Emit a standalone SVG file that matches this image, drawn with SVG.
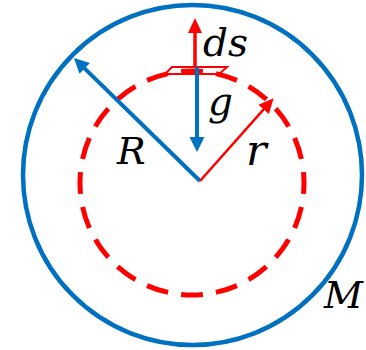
<svg xmlns="http://www.w3.org/2000/svg" width="366" height="350" viewBox="0 0 366 350">
<style>
.blue{stroke:#0070C0;fill:none}
.red{stroke:#FF0000;fill:none}
.lbl{font-family:"DejaVu Serif","Liberation Serif",serif;font-style:italic;fill:#000}
</style>
<defs>
<marker id="ahB" markerUnits="userSpaceOnUse" markerWidth="16" markerHeight="16" refX="7" refY="7.5" orient="auto" viewBox="0 0 16 16">
<path d="M0,0 L15,7.5 L0,15 z" fill="#0070C0"/>
</marker>
<marker id="ahR" markerUnits="userSpaceOnUse" markerWidth="16" markerHeight="16" refX="7" refY="7" orient="auto" viewBox="0 0 16 16">
<path d="M0,0 L15,7 L0,14 z" fill="#FF0000"/>
</marker>
</defs>
<g id="sphere">
<ellipse class="blue" cx="192.5" cy="175" rx="169.5" ry="170" stroke-width="4.5"/>
</g>
<g id="gauss-surface">
<circle class="red" cx="192" cy="183" r="112" stroke-width="5" pathLength="700" stroke-dasharray="22 13" stroke-dashoffset="11"/>
</g>
<g id="ds-element">
<polygon class="red" points="165,74 219,74 227,67 172,67" stroke-width="2" stroke-linejoin="miter"/>
</g>
<g id="connectors">
<line class="blue" x1="200" y1="181" x2="79.7" y2="63.6" stroke-width="4" marker-end="url(#ahB)"/>
<line class="blue" x1="197" y1="67" x2="197" y2="144" stroke-width="4" marker-end="url(#ahB)"/>
<line class="red" x1="200" y1="181" x2="268.3" y2="104.2" stroke-width="2.5" marker-end="url(#ahR)"/>
<line class="red" x1="195" y1="67" x2="195" y2="26" stroke-width="3.5" marker-end="url(#ahR)"/>
</g>
<g id="labels">
<text class="lbl" x="203" y="56" font-size="39">ds</text>
<text class="lbl" x="208" y="115" font-size="39">g</text>
<text class="lbl" x="117" y="164" font-size="38">R</text>
<text class="lbl" x="246" y="165" font-size="43">r</text>
<text class="lbl" x="324" y="308" font-size="38">M</text>
</g>
</svg>
